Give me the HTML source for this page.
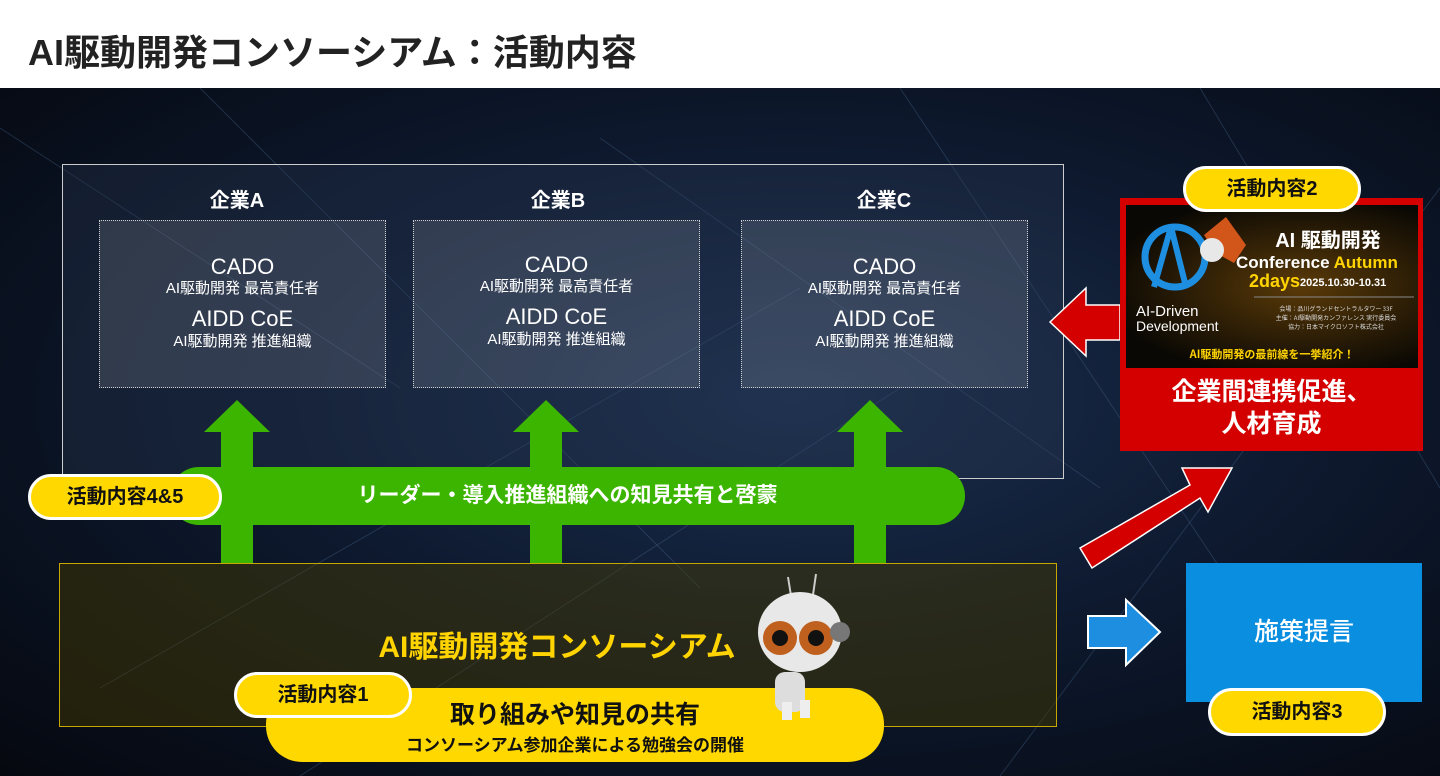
<!DOCTYPE html>
<html><head><meta charset="utf-8"><style>
*{margin:0;padding:0;box-sizing:border-box}
body{width:1440px;height:776px;overflow:hidden;position:relative;font-family:"Liberation Sans","Noto Sans CJK JP",sans-serif;background:#fff}
.a{position:absolute}
.hdr{left:0;top:0;width:1440px;height:88px;background:#fff}
.hdr h1{position:absolute;left:28px;top:24px;font-size:36px;font-weight:700;color:#222;white-space:nowrap}
.bg{left:0;top:88px;width:1440px;height:688px;background:radial-gradient(ellipse at 55% 45%,#1c3050 0%,#0e1a30 45%,#05080f 100%)}
.wt{color:#fff;font-weight:700;text-align:center}
.inner{border:1.5px dotted #ccc;background:rgba(255,255,255,0.12);width:287px;height:168px;top:220px}
.badge{background:#ffd800;border:3px solid #fff;border-radius:24px;font-weight:700;color:#111;font-size:20px;text-align:center}
</style></head><body>
<div class="a hdr"><h1>AI駆動開発コンソーシアム：活動内容</h1></div>
<div class="a bg"></div>
<svg class="a" style="left:0;top:88px" width="1440" height="688">
<g stroke="#4a6a90" stroke-opacity="0.35" stroke-width="1">
<line x1="0" y1="40" x2="400" y2="300"/><line x1="200" y1="0" x2="700" y2="500"/><line x1="600" y1="50" x2="1100" y2="400"/>
<line x1="900" y1="0" x2="1300" y2="600"/><line x1="100" y1="600" x2="800" y2="200"/><line x1="1000" y1="688" x2="1440" y2="100"/>
<line x1="300" y1="688" x2="900" y2="300"/><line x1="1200" y1="0" x2="1440" y2="400"/></g>
</svg>
<div class="a" style="left:62px;top:164px;width:1002px;height:315px;border:1.5px solid #ccc;background:rgba(40,55,80,0.35)"></div>
<div class="a wt" style="left:187px;top:184px;width:100px;font-size:20px">企業A</div>
<div class="a wt" style="left:508px;top:184px;width:100px;font-size:20px">企業B</div>
<div class="a wt" style="left:834px;top:184px;width:100px;font-size:20px">企業C</div>
<div class="a inner" style="left:99px"></div>
<div class="a inner" style="left:413px"></div>
<div class="a inner" style="left:741px"></div>
<div class="a wt" style="left:99px;top:254px;width:287px;font-weight:400;line-height:1.2"><div style="font-size:22px">CADO</div><div style="font-size:15px">AI駆動開発 最高責任者</div><div style="font-size:22px;margin-top:8px">AIDD CoE</div><div style="font-size:15px">AI駆動開発 推進組織</div></div>
<div class="a wt" style="left:413px;top:252px;width:287px;font-weight:400;line-height:1.2"><div style="font-size:22px">CADO</div><div style="font-size:15px">AI駆動開発 最高責任者</div><div style="font-size:22px;margin-top:8px">AIDD CoE</div><div style="font-size:15px">AI駆動開発 推進組織</div></div>
<div class="a wt" style="left:741px;top:254px;width:287px;font-weight:400;line-height:1.2"><div style="font-size:22px">CADO</div><div style="font-size:15px">AI駆動開発 最高責任者</div><div style="font-size:22px;margin-top:8px">AIDD CoE</div><div style="font-size:15px">AI駆動開発 推進組織</div></div>
<svg class="a" style="left:0;top:0" width="1440" height="776">
<g fill="#3cb500">
<polygon points="237,400 270,432 253,432 253,564 221,564 221,432 204,432"/>
<polygon points="546,400 579,432 562,432 562,564 530,564 530,432 513,432"/>
<polygon points="870,400 903,432 886,432 886,564 854,564 854,432 837,432"/>
</g>
<polygon points="1050,322 1086,288 1086,305 1120,305 1120,340 1086,340 1086,356" fill="#d40000" stroke="#fff" stroke-width="1.5"/>
<polygon points="1080,548 1190,485 1182,468 1232,468 1208,512 1200,498 1092,568" fill="#d40000" stroke="#fff" stroke-width="1.5"/>
<polygon points="1160,632 1126,600 1126,616 1088,616 1088,648 1126,648 1126,665" fill="#1e8fe0" stroke="#fff" stroke-width="2"/>
</svg>
<div class="a wt" style="left:170px;top:467px;width:795px;height:58px;border-radius:29px;background:#3cb500;font-size:21px;line-height:58px">リーダー・導入推進組織への知見共有と啓蒙</div>
<div class="a badge" style="left:28px;top:474px;width:194px;height:46px;line-height:40px">活動内容4&amp;5</div>
<div class="a" style="left:59px;top:563px;width:998px;height:164px;border:1.5px solid #c8a800;background:rgba(70,60,0,0.45)"></div>
<div class="a" style="left:300px;top:622px;width:514px;text-align:center;font-size:30px;font-weight:700;color:#ffd400;white-space:nowrap">AI駆動開発コンソーシアム</div>
<div class="a" style="left:266px;top:688px;width:618px;height:74px;border-radius:36px;background:#ffd800;text-align:center;color:#111;font-weight:700"><div style="font-size:25px;margin-top:7px">取り組みや知見の共有</div><div style="font-size:17px">コンソーシアム参加企業による勉強会の開催</div></div>
<div class="a badge" style="left:234px;top:672px;width:178px;height:46px;line-height:40px">活動内容1</div>
<svg class="a" style="left:750px;top:572px" width="110" height="150">
<line x1="42" y1="30" x2="38" y2="5" stroke="#ccc" stroke-width="2"/><line x1="62" y1="30" x2="66" y2="2" stroke="#ccc" stroke-width="2"/>
<rect x="25" y="100" width="30" height="40" rx="10" fill="#ddd"/><rect x="32" y="130" width="10" height="18" fill="#eee"/><rect x="50" y="128" width="10" height="18" fill="#eee"/>
<ellipse cx="50" cy="60" rx="42" ry="40" fill="#e8e8e8"/>
<circle cx="30" cy="66" r="17" fill="#c0601f"/><circle cx="66" cy="66" r="17" fill="#c0601f"/>
<circle cx="30" cy="66" r="8" fill="#111"/><circle cx="66" cy="66" r="8" fill="#111"/>
<circle cx="90" cy="60" r="10" fill="#777"/>
</svg>
<div class="a" style="left:1120px;top:198px;width:303px;height:253px;background:#d40000"></div>
<div class="a" style="left:1126px;top:205px;width:292px;height:163px;background:radial-gradient(ellipse at 60% 50%,#5a3a08,#0a0804 80%)"></div>
<svg class="a" style="left:1126px;top:205px" width="292" height="163">
<circle cx="49" cy="52" r="30" fill="none" stroke="#1e8fe0" stroke-width="7"/>
<path d="M45 22 L28 82 M45 22 L60 82" stroke="#1e8fe0" stroke-width="6" fill="none"/>
<polygon points="100,12 120,40 108,58 90,48 78,30" fill="#d2561a"/>
<circle cx="86" cy="45" r="12" fill="#e8e8e8"/>
<text x="202" y="42" fill="#fff" font-size="20" font-weight="700" text-anchor="middle" font-family="Liberation Sans,Noto Sans CJK JP,sans-serif">AI 駆動開発</text>
<text x="110" y="63" fill="#fff" font-size="17" font-weight="700" font-family="Liberation Sans,sans-serif">Conference <tspan fill="#ffd400">Autumn</tspan></text>
<text x="123" y="82" fill="#ffd400" font-size="18" font-weight="700" font-family="Liberation Sans,sans-serif">2days</text>
<text x="174" y="81" fill="#fff" font-size="11" font-weight="700" font-family="Liberation Sans,sans-serif">2025.10.30-10.31</text>
<line x1="128" y1="92" x2="288" y2="92" stroke="#888"/>
<text x="10" y="111" fill="#fff" font-size="15" font-family="Liberation Sans,sans-serif">AI-Driven</text>
<text x="10" y="126" fill="#fff" font-size="14" font-family="Liberation Sans,sans-serif">Development</text>
<text x="210" y="106" fill="#ddd" font-size="6" text-anchor="middle" font-family="Noto Sans CJK JP,sans-serif">会場：品川グランドセントラルタワー 33F</text>
<text x="210" y="115" fill="#ddd" font-size="6" text-anchor="middle" font-family="Noto Sans CJK JP,sans-serif">主催：AI駆動開発カンファレンス 実行委員会</text>
<text x="210" y="124" fill="#ddd" font-size="6" text-anchor="middle" font-family="Noto Sans CJK JP,sans-serif">協力：日本マイクロソフト株式会社</text>
<text x="146" y="153" fill="#ffd400" font-size="11" font-weight="700" text-anchor="middle" font-family="Noto Sans CJK JP,sans-serif">AI駆動開発の最前線を一挙紹介！</text>
</svg>
<div class="a wt" style="left:1120px;top:376px;width:303px;font-size:25px;line-height:32px">企業間連携促進、<br>人材育成</div>
<div class="a badge" style="left:1183px;top:166px;width:178px;height:46px;line-height:40px">活動内容2</div>
<div class="a wt" style="left:1186px;top:563px;width:236px;height:139px;background:#0a8fe0;font-size:25px;line-height:139px;font-weight:500">施策提言</div>
<div class="a badge" style="left:1208px;top:688px;width:178px;height:48px;line-height:42px">活動内容3</div>
</body></html>
